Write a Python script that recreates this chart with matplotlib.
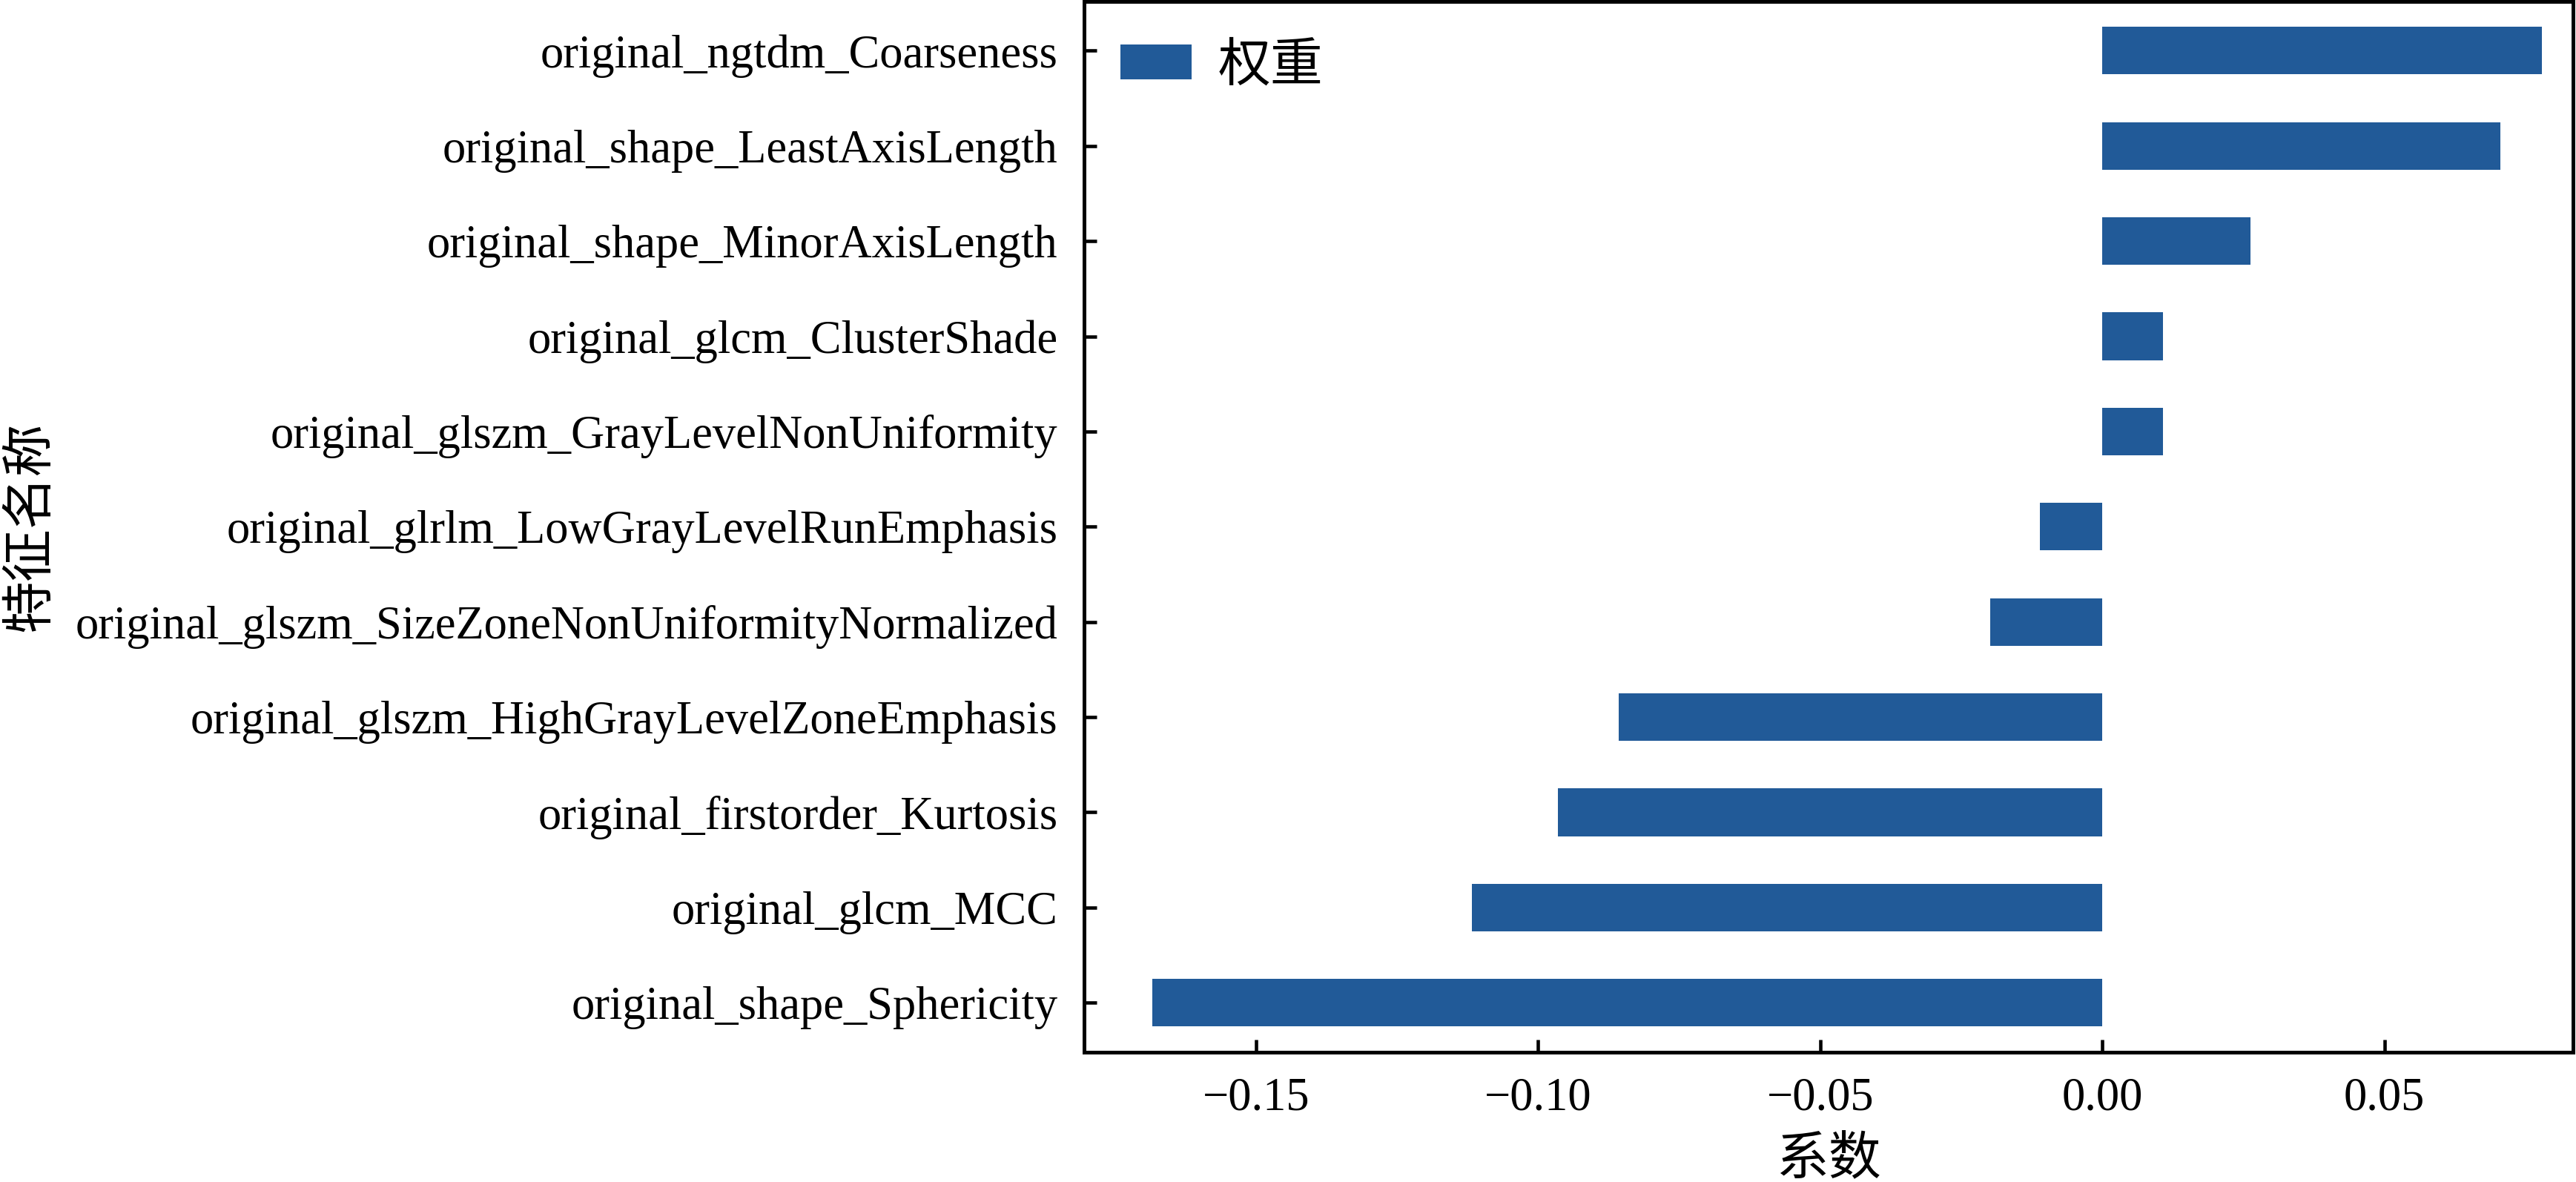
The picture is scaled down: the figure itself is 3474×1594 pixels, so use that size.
import matplotlib
matplotlib.use("Agg")
import matplotlib.pyplot as plt

features = [
    "original_shape_Sphericity",
    "original_glcm_MCC",
    "original_firstorder_Kurtosis",
    "original_glszm_HighGrayLevelZoneEmphasis",
    "original_glszm_SizeZoneNonUniformityNormalized",
    "original_glrlm_LowGrayLevelRunEmphasis",
    "original_glszm_GrayLevelNonUniformity",
    "original_glcm_ClusterShade",
    "original_shape_MinorAxisLength",
    "original_shape_LeastAxisLength",
    "original_ngtdm_Coarseness",
]
weights = [-0.1684, -0.1117, -0.0965, -0.0857, -0.0199, -0.0111,
           0.0107, 0.0107, 0.0262, 0.0705, 0.0779]

xticks = [-0.15, -0.10, -0.05, 0.00, 0.05]
xtick_labels = ["\u22120.15", "\u22120.10", "\u22120.05", "0.00", "0.05"]

SERIF = ["Liberation Serif", "DejaVu Serif"]
CJK = ["Noto Sans CJK SC", "DejaVu Sans"]

plt.rcParams["font.family"] = SERIF

fig = plt.figure(figsize=(3474 / 300, 1594 / 300), dpi=300)
ax = fig.add_axes([0.4208, 0.1098, 0.578, 0.8892])

ax.barh(range(len(features)), weights, height=0.5, color="#215a98", label="权重")

ax.set_yticks(range(len(features)))
ax.set_yticklabels(features, fontsize=15)
ax.set_xticks(xticks)
ax.set_xticklabels(xtick_labels, fontsize=15)
ax.set_xlim(-0.1805, 0.0834)
ax.set_ylim(-0.52, 10.52)

ax.tick_params(direction="in", length=4, width=1.1)
ax.tick_params(axis="y", pad=8.5)
ax.tick_params(axis="x", pad=8)
for sp in ax.spines.values():
    sp.set_linewidth(1.2)

ax.set_xlabel("系数", family=CJK, fontsize=17, labelpad=4)
ax.set_ylabel("特征名称", family=CJK, fontsize=17, labelpad=6)

leg = ax.legend(loc="upper left", frameon=False, prop={"family": CJK, "size": 17},
                handlelength=1.35, handleheight=0.65, handletextpad=0.5,
                borderaxespad=0.3)

fig.savefig("out.png", dpi=300)
